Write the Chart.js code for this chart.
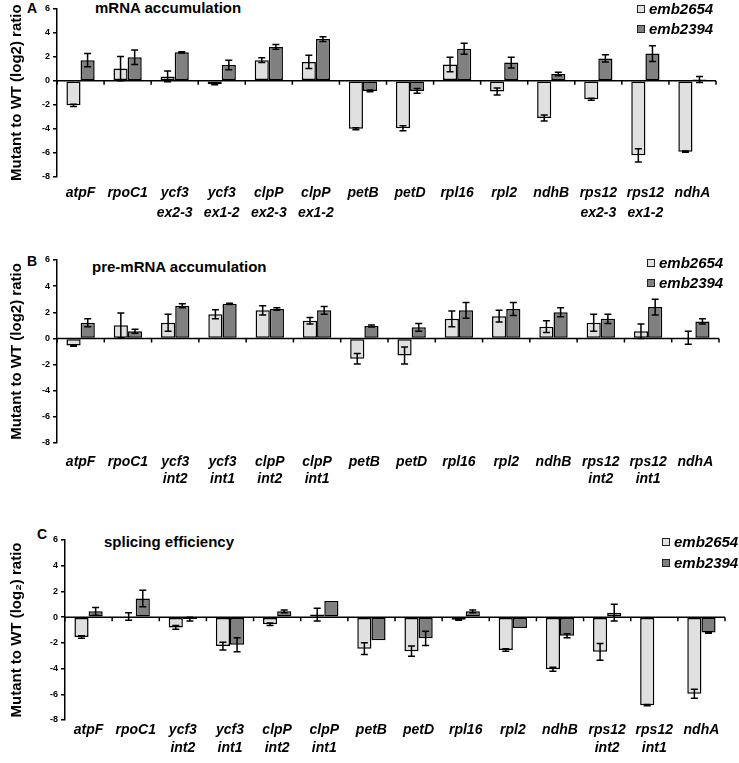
<!DOCTYPE html>
<html>
<head>
<meta charset="utf-8">
<script src="https://cdn.jsdelivr.net/npm/chart.js@4.4.0/dist/chart.umd.min.js"></script>
<style>
  body { margin: 0; background: #fff; width: 739px; height: 763px; position: relative; overflow: hidden; font-family: 'Liberation Sans', Arial, sans-serif; }
  canvas { position: absolute; left: 0; }
  .lbl { position: absolute; font-weight: bold; color: #000; white-space: nowrap; line-height: 1; }
</style>
</head>
<body>
<div class="lbl" style="left:27px;top:1px;font-size:14px">A</div>
<div class="lbl" style="left:95px;top:0px;font-size:15px">mRNA accumulation</div>
<div class="lbl" style="left:27px;top:254px;font-size:14px">B</div>
<div class="lbl" style="left:92px;top:259px;font-size:15px">pre-mRNA accumulation</div>
<div class="lbl" style="left:37px;top:527px;font-size:14px">C</div>
<div class="lbl" style="left:104px;top:534px;font-size:15px">splicing efficiency</div>

<canvas id="chartA" width="739" height="232" style="top:0px"></canvas>
<canvas id="chartB" width="739" height="265" style="top:240px"></canvas>
<canvas id="chartC" width="739" height="253" style="top:510px"></canvas>

<script>
// categories
const catsA = ['atpF', 'rpoC1', ['ycf3', 'ex2-3'], ['ycf3', 'ex1-2'], ['clpP', 'ex2-3'], ['clpP', 'ex1-2'],
  'petB', 'petD', 'rpl16', 'rpl2', 'ndhB', ['rps12', 'ex2-3'], ['rps12', 'ex1-2'], 'ndhA'];
const catsBC = ['atpF', 'rpoC1', ['ycf3', 'int2'], ['ycf3', 'int1'], ['clpP', 'int2'], ['clpP', 'int1'],
  'petB', 'petD', 'rpl16', 'rpl2', 'ndhB', ['rps12', 'int2'], ['rps12', 'int1'], 'ndhA'];

// A - mRNA accumulation
const mrna2654 = [-2.05, 1.0, 0.35, -0.3, 1.7, 1.55, -4.0, -3.95, 1.35, -0.9, -3.1, -1.55, -6.2, -5.9];
const mrna2654Err = [0.1, 1.0, 0.45, 0.05, 0.2, 0.55, 0.08, 0.2, 0.6, 0.3, 0.25, 0.08, 0.55, 0.05];
const mrna2394 = [1.7, 1.95, 2.35, 1.3, 2.8, 3.45, -0.85, -0.85, 2.65, 1.5, 0.55, 1.85, 2.25, 0.1];
const mrna2394Err = [0.55, 0.6, 0.05, 0.4, 0.2, 0.2, 0.08, 0.2, 0.45, 0.45, 0.15, 0.3, 0.65, 0.25];

// B - pre-mRNA accumulation
const pre2654 = [-0.55, 1.0, 1.2, 1.85, 2.15, 1.35, -1.55, -1.3, 1.5, 1.7, 0.9, 1.2, 0.55, 0.05];
const pre2654Err = [0.05, 0.95, 0.65, 0.35, 0.35, 0.25, 0.4, 0.65, 0.6, 0.45, 0.45, 0.65, 0.55, 0.5];
const pre2394 = [1.2, 0.55, 2.5, 2.65, 2.25, 2.15, 0.95, 0.85, 2.15, 2.25, 2.0, 1.5, 2.4, 1.3];
const pre2394Err = [0.3, 0.15, 0.15, 0.05, 0.1, 0.3, 0.08, 0.3, 0.6, 0.5, 0.35, 0.35, 0.6, 0.2];

// C - splicing efficiency
const spl2654 = [-1.55, 0.05, -0.8, -2.25, -0.55, 0.2, -2.45, -2.65, -0.2, -2.55, -4.05, -2.7, -6.85, -5.95];
const spl2654Err = [0.1, 0.3, 0.15, 0.3, 0.1, 0.5, 0.45, 0.4, 0.05, 0.1, 0.15, 0.65, 0.05, 0.35];
const spl2394 = [0.45, 1.45, -0.15, -2.15, 0.45, 1.25, -1.8, -1.65, 0.45, -0.85, -1.45, 0.35, -0.05, -1.2];
const spl2394Err = [0.3, 0.65, 0.15, 0.55, 0.1, 0, 0, 0.55, 0.1, 0, 0.15, 0.65, 0, 0.05];

const yTicks = { min: -8, max: 6, step: 2 };

Chart.defaults.font.family = "'Liberation Sans', Arial, sans-serif";

// zero line with boundary ticks + error bars
const zeroAxis = {
  id: 'zeroAxis',
  afterDatasetsDraw(chart) {
    const { ctx, chartArea, scales: { x, y } } = chart;
    ctx.save();
    ctx.strokeStyle = '#000';
    ctx.lineWidth = 1.5;
    chart.data.datasets.forEach((ds, i) => {
      chart.getDatasetMeta(i).data.forEach((bar, j) => {
        const e = ds.err[j];
        if (!e) return;
        const top = y.getPixelForValue(ds.data[j] + e);
        const bot = y.getPixelForValue(ds.data[j] - e);
        ctx.beginPath();
        ctx.moveTo(bar.x, top); ctx.lineTo(bar.x, bot);
        ctx.moveTo(bar.x - 3.5, top); ctx.lineTo(bar.x + 3.5, top);
        ctx.moveTo(bar.x - 3.5, bot); ctx.lineTo(bar.x + 3.5, bot);
        ctx.stroke();
      });
    });
    const y0 = y.getPixelForValue(0);
    ctx.beginPath();
    ctx.moveTo(chartArea.left, y0);
    ctx.lineTo(chartArea.right, y0);
    const n = chart.data.labels.length;
    for (let k = 0; k <= n; k++) {
      const bx = x.getPixelForValue(k - 0.5);
      ctx.moveTo(bx, y0);
      ctx.lineTo(bx, y0 + 4);
    }
    ctx.stroke();
    ctx.restore();
  }
};

const cornerLegend = {
  id: 'cornerLegend',
  afterDraw(chart, args, opts) {
    const { ctx } = chart;
    ctx.save();
    ctx.font = "italic bold 15px 'Liberation Sans', Arial, sans-serif";
    ctx.textBaseline = 'middle';
    chart.data.datasets.forEach((ds, i) => {
      const cy = opts.y + i * opts.gap;
      ctx.fillStyle = ds.backgroundColor;
      ctx.fillRect(opts.x, cy - 4, 8, 8);
      ctx.strokeStyle = '#222';
      ctx.lineWidth = 1;
      ctx.strokeRect(opts.x + 0.5, cy - 3.5, 7, 7);
      ctx.fillStyle = '#000';
      ctx.fillText(ds.label, opts.x + 12, cy + 1);
    });
    ctx.restore();
  }
};

function makePanel(id, cats, light, lightErr, dark, darkErr, yTitle, g) {
  const canvas = document.getElementById(id);
  return new Chart(canvas, {
    type: 'bar',
    data: {
      labels: cats,
      datasets: [
        { label: 'emb2654', data: light, err: lightErr, backgroundColor: '#e0e0e0',
          borderColor: '#000', borderWidth: 1.5, borderSkipped: false },
        { label: 'emb2394', data: dark, err: darkErr, backgroundColor: '#808080',
          borderColor: '#000', borderWidth: 1.5, borderSkipped: false }
      ]
    },
    options: {
      responsive: false,
      animation: false,
      layout: { padding: { top: g.top, right: 739 - g.right, left: 0, bottom: 0 } },
      datasets: { bar: { categoryPercentage: 0.6, barPercentage: 1.0 } },
      plugins: {
        legend: { display: false },
        tooltip: { enabled: false },
        cornerLegend: { x: g.legX, y: g.legY, gap: g.legGap }
      },
      scales: {
        x: {
          grid: { display: false, drawTicks: false },
          border: { display: false },
          ticks: {
            color: '#000', maxRotation: 0, autoSkip: false, padding: g.tickPad,
            font: { size: 14, style: 'italic', weight: 'bold', lineHeight: g.lh }
          },
          afterFit: s => { s.height = canvas.height - g.bottom; }
        },
        y: {
          min: yTicks.min, max: yTicks.max,
          ticks: { stepSize: yTicks.step, color: '#000', padding: 3, font: { size: 9, weight: 'bold' } },
          grid: { drawOnChartArea: false, color: '#000', tickLength: 4, lineWidth: 1.5 },
          border: { color: '#000', width: 1.5 },
          title: { display: true, text: yTitle, color: '#000', padding: { top: 8, bottom: 0 },
            font: { size: 15, weight: 'bold' } },
          afterFit: s => { s.width = g.left; }
        }
      }
    },
    plugins: [zeroAxis, cornerLegend]
  });
}

makePanel('chartA', catsA, mrna2654, mrna2654Err, mrna2394, mrna2394Err,
  'Mutant to WT (log2) ratio',
  { top: 5.5, bottom: 177, left: 57, right: 716, tickPad: 6, lh: 20 / 14, legX: 637, legY: 9, legGap: 20 });

makePanel('chartB', catsBC, pre2654, pre2654Err, pre2394, pre2394Err,
  'Mutant to WT (log2) ratio',
  { top: 20, bottom: 203, left: 57, right: 719, tickPad: 11, lh: 17 / 14, legX: 647, legY: 23, legGap: 20 });

makePanel('chartC', catsBC, spl2654, spl2654Err, spl2394, spl2394Err,
  'Mutant to WT (log\u2082) ratio',
  { top: 30, bottom: 210, left: 65, right: 725, tickPad: 1, lh: 18 / 14, legX: 662, legY: 32, legGap: 21 });
</script>
</body>
</html>
